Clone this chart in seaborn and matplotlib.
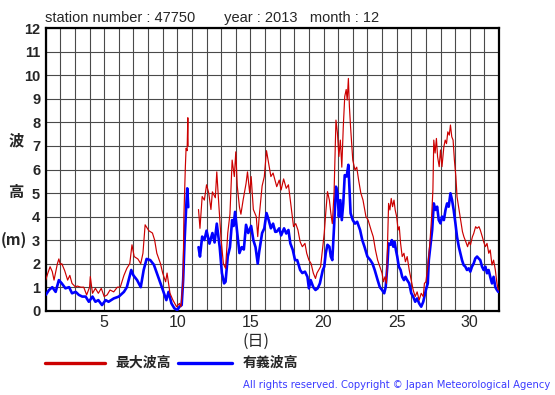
import numpy as np
import pandas as pd
import matplotlib
matplotlib.use("Agg")
import matplotlib.pyplot as plt
import seaborn as sns

# ---------------- data ----------------
title_text = "station number : 47750       year : 2013   month : 12"
x_ticks = [5, 10, 15, 20, 25, 30]
y_ticks = list(range(0, 13))
legend_labels = ["最大波高", "有義波高"]

max_day = [1.0, 1.15, 1.3, 1.45, 1.57, 1.8, 1.9, 2.0, 2.1, 2.3, 2.5, 2.65, 2.8, 3.05, 3.15, 3.4, 3.6, 3.8,
           4.0, 4.05, 4.2, 4.4, 4.6, 4.8, 5.0, 5.2, 5.4, 5.65, 5.9, 6.1, 6.35, 6.55, 6.75, 6.9, 7.05, 7.3,
           7.5, 7.65, 7.8, 8.05, 8.3, 8.45, 8.6, 8.85, 9.0, 9.2, 9.3, 9.5, 9.7, 9.95, 10.15, 10.25, 10.4,
           10.45, 10.55, 10.6, 10.67, 10.72, 10.74,
           11.45, 11.55, 11.7, 11.85, 12.0, 12.15, 12.3, 12.4, 12.6, 12.7, 12.85, 13.0, 13.15, 13.3, 13.45,
           13.6, 13.75, 13.9, 14.0, 14.1, 14.25, 14.35, 14.5, 14.7, 14.8, 14.95, 15.05, 15.2, 15.4, 15.5,
           15.6, 15.8, 15.95, 16.1, 16.25, 16.4, 16.55, 16.75, 16.8, 16.97, 17.1, 17.27, 17.45, 17.6, 17.73,
           17.82, 17.95, 18.1, 18.25, 18.4, 18.55, 18.73, 18.85, 19.0, 19.15, 19.3, 19.45, 19.55, 19.8,
           19.95, 20.05, 20.15, 20.27, 20.4, 20.5, 20.6, 20.72, 20.85, 20.95, 21.05, 21.15, 21.25, 21.35,
           21.45, 21.55, 21.62, 21.7, 21.77, 21.85, 22.0, 22.15, 22.27, 22.4, 22.55, 22.7, 22.9, 23.05,
           23.25, 23.4, 23.55, 23.7, 23.85, 24.0, 24.1, 24.2, 24.3, 24.36, 24.45, 24.54, 24.63, 24.72,
           24.82, 24.9, 25.0, 25.1, 25.18, 25.27, 25.38, 25.5, 25.6, 25.72, 25.86, 26.0, 26.13, 26.27,
           26.4, 26.54, 26.68, 26.82, 26.9, 27.0, 27.13, 27.27, 27.38, 27.48, 27.54, 27.63, 27.72, 27.8,
           27.91, 28.0, 28.1, 28.23, 28.32, 28.41, 28.5, 28.6, 28.68, 28.77, 28.86, 28.95, 29.05, 29.13,
           29.27, 29.38, 29.5, 29.6, 29.73, 29.85, 29.95, 30.05, 30.18, 30.27, 30.4, 30.5, 30.63, 30.72,
           30.86, 30.95, 31.07, 31.18, 31.3, 31.4, 31.52, 31.63, 31.75, 31.86, 31.95]
max_h = [1.3, 1.6, 1.87, 1.66, 1.3, 2.0, 2.2, 1.95, 2.0, 1.7, 1.3, 1.5, 1.16, 1.0, 1.05, 1.0, 1.0, 0.67,
         1.0, 1.45, 0.74, 0.95, 0.74, 0.95, 0.6, 0.67, 0.88, 0.8, 1.0, 1.0, 1.5, 1.8, 2.0, 2.8, 2.3, 2.2,
         2.0, 2.44, 3.65, 3.4, 3.3, 3.0, 2.44, 2.0, 1.6, 1.23, 1.6, 0.74, 0.45, 0.17, 0.31, 0.17, 1.3,
         4.0, 6.1, 6.9, 6.8, 8.2, 7.0,
         4.3, 3.5, 4.85, 4.7, 5.35, 5.0, 4.3, 5.05, 4.8, 5.9, 4.4, 3.0, 2.0, 1.8, 3.3,
         4.1, 6.4, 5.7, 6.75, 5.3, 4.4, 4.1, 4.7, 5.4, 5.9, 5.0, 5.7, 4.3, 4.0, 3.15,
         4.0, 5.3, 5.7, 6.8, 6.25, 5.7, 5.85, 5.4, 5.27, 5.55, 5.13, 5.6, 5.2, 5.35, 4.7,
         4.28, 3.57, 3.7, 3.43, 2.93, 2.72, 2.86, 2.44, 2.15, 2.0, 1.6, 1.37, 1.6, 1.87,
         2.72, 3.3, 4.14, 5.06, 4.7, 4.14, 3.7, 5.0, 8.1, 7.55, 6.55, 7.25, 6.1, 7.8,
         9.1, 9.4, 8.95, 9.87, 8.67, 7.8, 6.4, 5.98, 6.1, 5.55, 5.0, 4.7, 4.0, 3.85,
         3.43, 3.14, 2.58, 2.15, 1.87, 1.6, 1.23, 1.44, 1.16, 2.44, 4.56, 4.28, 4.77, 4.42,
         4.7, 4.28, 4.0, 3.43, 3.57, 2.86, 2.3, 2.44, 2.08, 2.3, 1.73, 1.3, 0.88, 0.6,
         0.8, 0.45, 0.74, 0.6, 1.16, 1.23, 1.87, 2.86, 3.85, 5.13, 7.25, 6.7, 7.32, 6.54,
         6.12, 6.83, 6.12, 6.97, 7.25, 7.1, 7.6, 7.46, 7.89, 7.39, 7.25, 6.4, 5.7, 4.84,
         4.28, 3.85, 3.36, 3.14, 2.93, 2.72, 2.93, 2.8, 3.14, 3.28, 3.57, 3.5, 3.57, 3.43,
         3.14, 2.93, 2.72, 2.86, 2.44, 2.58, 1.94, 2.15, 1.73, 1.16, 0.88]

sig_day = [1.0, 1.23, 1.45, 1.68, 1.9, 2.1, 2.35, 2.6, 2.8, 3.05, 3.27, 3.5, 3.73, 3.95, 4.2, 4.4, 4.6,
           4.85, 5.1, 5.3, 5.65, 6.0, 6.35, 6.55, 6.85, 7.0, 7.25, 7.5, 7.7, 7.9, 8.15, 8.4, 8.6, 8.8,
           9.0, 9.25, 9.4, 9.6, 9.8, 10.0, 10.15, 10.3, 10.4, 10.5, 10.6, 10.68, 10.75,
           11.45, 11.55, 11.7, 11.85, 12.0, 12.2, 12.4, 12.55, 12.7, 12.9, 13.05, 13.2, 13.3, 13.45,
           13.6, 13.75, 13.85, 13.95, 14.1, 14.25, 14.4, 14.55, 14.7, 14.85, 15.05, 15.2, 15.35, 15.5,
           15.6, 15.8, 15.95, 16.1, 16.25, 16.4, 16.55, 16.7, 16.8, 16.97, 17.1, 17.3, 17.45, 17.6,
           17.73, 17.9, 18.05, 18.2, 18.4, 18.55, 18.73, 18.9, 19.0, 19.12, 19.3, 19.45, 19.6, 19.75,
           19.95, 20.05, 20.15, 20.27, 20.4, 20.5, 20.6, 20.72, 20.85, 20.95, 21.05, 21.15, 21.25,
           21.35, 21.45, 21.58, 21.65, 21.7, 21.77, 21.85, 22.0, 22.15, 22.3, 22.5, 22.65, 22.8, 23.0,
           23.2, 23.35, 23.5, 23.7, 23.85, 24.0, 24.15, 24.25, 24.36, 24.45, 24.58, 24.67, 24.77,
           24.86, 24.95, 25.04, 25.15, 25.27, 25.38, 25.5, 25.6, 25.72, 25.86, 26.0, 26.13, 26.27,
           26.4, 26.54, 26.68, 26.82, 26.9, 27.0, 27.13, 27.2, 27.3, 27.43, 27.54, 27.65, 27.77,
           27.88, 28.0, 28.1, 28.23, 28.34, 28.45, 28.56, 28.68, 28.79, 28.9, 29.02, 29.13, 29.25,
           29.36, 29.47, 29.58, 29.7, 29.81, 29.93, 30.04, 30.15, 30.27, 30.38, 30.5, 30.61, 30.72,
           30.84, 30.95, 31.07, 31.18, 31.29, 31.4, 31.52, 31.63, 31.75, 31.86, 31.95]
sig_h = [0.67, 0.88, 1.0, 0.8, 1.3, 1.16, 0.95, 1.0, 0.74, 0.8, 0.67, 0.6, 0.6, 0.38, 0.6, 0.38, 0.45,
         0.24, 0.45, 0.38, 0.52, 0.6, 0.8, 1.0, 1.73, 1.5, 1.3, 1.0, 1.73, 2.2, 2.15, 1.95, 1.6, 1.25,
         0.9, 0.45, 0.8, 0.31, 0.1, 0.03, 0.17, 0.24, 1.3, 3.0, 4.3, 5.2, 4.4,
         2.7, 2.3, 3.15, 3.0, 3.4, 2.85, 3.3, 2.9, 3.7, 2.7, 1.6, 1.16, 1.23, 2.3,
         2.7, 3.85, 3.6, 4.2, 3.3, 2.45, 2.7, 2.6, 3.65, 3.3, 3.6, 3.0, 2.7, 2.0,
         2.5, 3.3, 3.5, 4.15, 3.85, 3.5, 3.7, 3.35, 3.36, 3.5, 3.2, 3.5, 3.28, 3.43,
         2.86, 2.58, 2.15, 2.15, 1.73, 1.6, 1.66, 1.44, 0.95, 1.3, 1.0, 0.88, 0.95, 1.16,
         1.73, 1.87, 2.44, 2.8, 2.72, 2.3, 2.15, 3.57, 5.27, 5.0, 4.0, 4.7, 3.85,
         4.56, 5.76, 5.7, 5.98, 6.2, 5.27, 4.14, 3.85, 3.7, 3.78, 3.43, 3.0, 2.72, 2.3,
         2.15, 2.0, 1.73, 1.3, 1.0, 0.88, 0.74, 1.0, 1.87, 2.86, 2.8, 3.0, 2.72,
         2.93, 2.58, 2.3, 1.87, 1.73, 1.44, 1.3, 1.44, 1.3, 1.16, 0.74, 0.6, 0.38,
         0.52, 0.31, 0.17, 0.38, 0.6, 0.88, 1.16, 2.15, 2.72, 3.43, 4.56, 4.28, 4.42,
         3.85, 3.71, 4.0, 3.85, 4.28, 4.56, 4.42, 4.99, 4.7, 4.28, 3.71, 3.14, 2.72,
         2.44, 2.15, 1.94, 1.87, 1.73, 1.8, 1.66, 1.87, 2.01, 2.22, 2.3, 2.22, 2.15,
         1.87, 1.73, 1.87, 1.59, 1.73, 1.44, 1.16, 1.44, 1.0, 0.88, 0.8]


def to_frame(days, vals):
    df = pd.DataFrame({"day": days, "h": vals})
    df["seg"] = (df["day"].diff() > 0.5).cumsum()
    return df


df_max = to_frame(max_day, max_h)
df_sig = to_frame(sig_day, sig_h)

# ---------------- style ----------------
sns.set_style("white")
plt.rcParams["font.family"] = ["Liberation Sans", "DejaVu Sans"]
CJK = ["Noto Sans CJK JP", "DejaVu Sans"]

W, H = 555, 395
fig = plt.figure(figsize=(W / 100, H / 100), dpi=100)
ax = fig.add_axes([45.7 / W, 1 - 310.7 / H, (499 - 45.7) / W, (310.7 - 28.3) / H])

RED = "#cc0000"
BLUE = "#0000ff"

sns.lineplot(data=df_sig, x="day", y="h", units="seg", estimator=None, color=BLUE,
             linewidth=1.9, ax=ax, zorder=3)
sns.lineplot(data=df_max, x="day", y="h", units="seg", estimator=None, color=RED,
             linewidth=0.85, ax=ax, zorder=4)

ax.set_xlim(1, 32)
ax.set_ylim(0, 12)
ax.set_xticks(x_ticks)
ax.set_xticklabels([str(t) for t in x_ticks], fontsize=11.5)
ax.set_xticks(range(1, 33), minor=True)
ax.set_yticks(y_ticks)
ax.set_yticklabels([str(t) for t in y_ticks], fontsize=10.5, fontweight="bold")
ax.tick_params(axis="both", which="both", length=0)
ax.tick_params(axis="y", pad=4)
ax.tick_params(axis="x", pad=3)
ax.grid(True, which="both", color="#4a4a4a", linewidth=0.8)
ax.set_axisbelow(True)
for s in ax.spines.values():
    s.set_color("black")
    s.set_linewidth(1.6)
ax.set_xlabel("")
ax.set_ylabel("")


def px(x, y):
    return x / W, 1 - y / H


fig.text(*px(45, 22), title_text, fontsize=10.5, ha="left", va="baseline")
fig.text(*px(16, 140), "波", family=CJK, fontsize=11, fontweight="bold", ha="center", va="center")
fig.text(*px(16, 192), "高", family=CJK, fontsize=11, fontweight="bold", ha="center", va="center")
fig.text(*px(14, 240), "(m)", family=CJK, fontsize=11, fontweight="bold", ha="center", va="center")
fig.text(*px(256, 346), "(日)", family=CJK, fontsize=11.5, ha="center", va="baseline")

fig.add_artist(plt.Line2D([45 / W, 105 / W], [1 - 363 / H] * 2, color=RED, linewidth=2.4))
fig.add_artist(plt.Line2D([178 / W, 232 / W], [1 - 363 / H] * 2, color=BLUE, linewidth=2.4))
fig.text(*px(115, 363), legend_labels[0], family=CJK, fontsize=10, fontweight="bold", ha="left", va="center")
fig.text(*px(243, 363), legend_labels[1], family=CJK, fontsize=10, fontweight="bold", ha="left", va="center")
fig.text(*px(550, 385), "All rights reserved. Copyright © Japan Meteorological Agency",
         color="#3b3bff", fontsize=7.2, ha="right", va="center", family=["DejaVu Sans"])

fig.savefig("out.png", dpi=100)
